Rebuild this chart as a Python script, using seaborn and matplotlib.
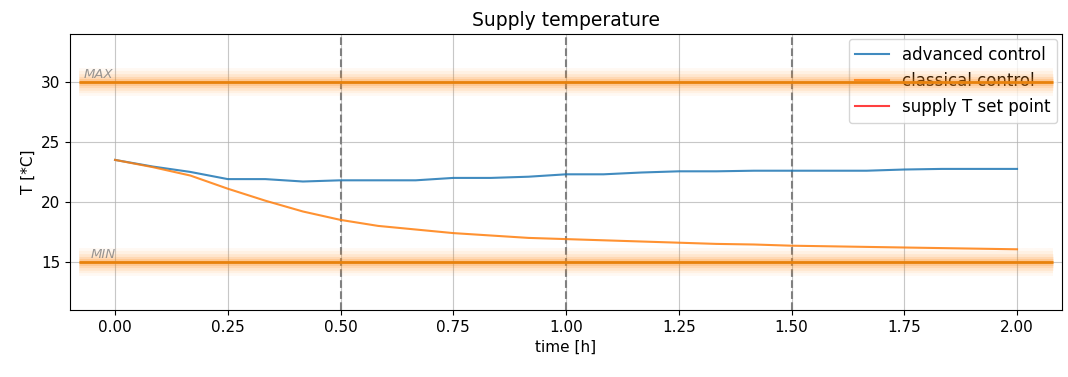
import numpy as np
import pandas as pd
import matplotlib
matplotlib.use("Agg")
import matplotlib.pyplot as plt
import seaborn as sns

time_h = [0.0, 1/12, 2/12, 3/12, 4/12, 5/12, 6/12, 7/12, 8/12, 9/12, 10/12, 11/12, 1.0,
          13/12, 14/12, 15/12, 16/12, 17/12, 18/12, 19/12, 20/12, 21/12, 22/12, 23/12, 2.0]
advanced = [23.5, 22.95, 22.5, 21.9, 21.9, 21.7, 21.8, 21.8, 21.8, 22.0, 22.0, 22.1, 22.3,
            22.3, 22.45, 22.55, 22.55, 22.6, 22.6, 22.6, 22.6, 22.7, 22.75, 22.75, 22.75]
classical = [23.5, 22.9, 22.2, 21.1, 20.1, 19.2, 18.5, 18.0, 17.7, 17.4, 17.2, 17.0, 16.9,
             16.8, 16.7, 16.6, 16.5, 16.45, 16.35, 16.3, 16.25, 16.2, 16.15, 16.1, 16.05]
limits = {"MAX": 30, "MIN": 15}
period_marks = [0.5, 1.0, 1.5]

plt.rcParams["font.size"] = 11

df = pd.DataFrame({
    "time": time_h * 2,
    "T": advanced + classical,
    "series": ["advanced control"] * len(time_h) + ["classical control"] * len(time_h),
})

fig = plt.figure(figsize=(10.68, 3.77), dpi=100)
ax = fig.add_axes([0.0655, 0.178, 0.929, 0.732])

sns.lineplot(data=df, x="time", y="T", hue="series",
             palette=["#1f77b4", "#ff7f0e"], ax=ax, linewidth=1.5, alpha=0.85, zorder=3)
ax.plot([], [], color="red", alpha=0.75, linewidth=1.5, label="supply T set point")

for name, val in limits.items():
    for lw, a in [(20, 0.05), (16, 0.07), (12, 0.1), (8, 0.15), (5, 0.2)]:
        ax.hlines(val, -0.08, 2.08, color="#ff8c1a", linewidth=lw, alpha=a, zorder=5)
    ax.hlines(val, -0.08, 2.08, color="#e8820c", linewidth=2, zorder=6)
ax.text(-0.07, 30.05, "MAX", fontstyle="italic", color="gray", alpha=0.8, fontsize=9.5,
        va="bottom", zorder=7)
ax.text(-0.055, 15.05, "MIN", fontstyle="italic", color="gray", alpha=0.8, fontsize=9.5,
        va="bottom", zorder=7)

for xv in period_marks:
    ax.axvline(xv, color="gray", linestyle="--", linewidth=1.5, zorder=2)

ax.set_xlim(-0.1, 2.1)
ax.set_ylim(11, 34)
ax.set_xticks(np.arange(0, 2.01, 0.25))
ax.set_yticks([15, 20, 25, 30])
ax.grid(True, color="#b0b0b0", linewidth=0.8, alpha=0.7)
ax.set_axisbelow(True)
ax.set_xlabel("time [h]")
ax.set_ylabel("T [*C]")
ax.set_title("Supply temperature", fontsize=13.5)
leg = ax.legend(loc="upper right", title=None, fontsize=12, borderaxespad=0.3)
leg.set_zorder(4)

fig.savefig("out.png", dpi=100)
